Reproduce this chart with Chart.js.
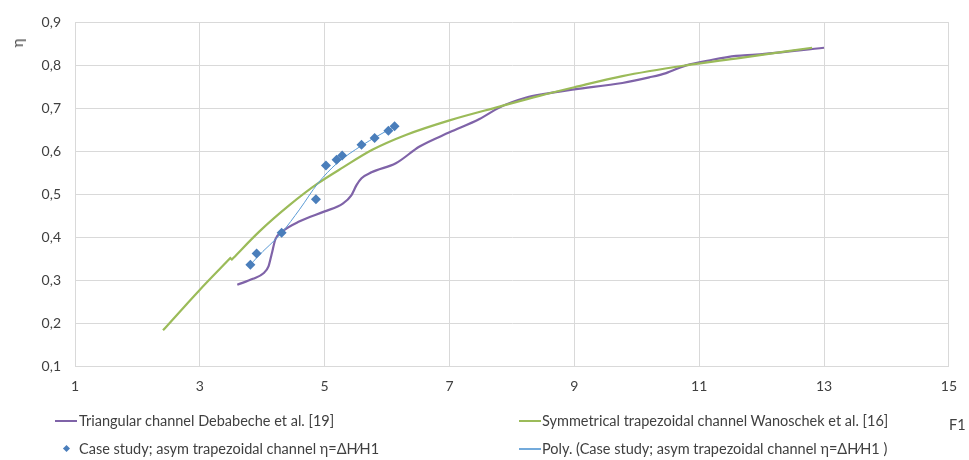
<!DOCTYPE html>
<html>
<head>
<meta charset="utf-8">
<script src="https://cdn.jsdelivr.net/npm/chart.js@4/dist/chart.umd.min.js"></script>
<style>
html,body{margin:0;padding:0;background:#ffffff;}
#wrap{position:relative;width:969px;height:460px;font-family:Lato,"Liberation Sans",sans-serif;color:#404040;overflow:hidden;}
#c{position:absolute;left:0;top:0;}
.txt{position:absolute;white-space:nowrap;font-size:14.5px;line-height:16px;transform:translateY(-50%);}
.sw{position:absolute;}
#ytitle{position:absolute;font-size:15px;line-height:16px;transform:translate(-50%,-50%) rotate(-90deg);}
#xtitle{position:absolute;font-size:14.5px;line-height:16px;transform:translateY(-50%);}
</style>
</head>
<body>
<div id="wrap">
<canvas id="c" width="969" height="460"></canvas>
<div id="ytitle" style="left:17px;top:43px;">η</div>
<div id="xtitle" style="left:949px;top:425px;">F1</div>
<div id="legend"></div>
</div>
<script>
// ---- data ----
const xTicks = [1, 3, 5, 7, 9, 11, 13, 15];
const yTicks = [0.1, 0.2, 0.3, 0.4, 0.5, 0.6, 0.7, 0.8, 0.9];
const yTickLabels = ['0,1', '0,2', '0,3', '0,4', '0,5', '0,6', '0,7', '0,8', '0,9'];

const seriesNames = [
  'Triangular channel Debabeche et al. [19]',
  'Symmetrical trapezoidal channel Wanoschek et al. [16]',
  'Case study; asym trapezoidal channel  η=ΔH⁄H1',
  'Poly. (Case study; asym trapezoidal channel  η=ΔH⁄H1 )'
];

const triX = [3.60, 3.85, 4.02, 4.10, 4.15, 4.21, 4.31, 4.60, 5.00, 5.29, 5.43, 5.51, 5.59, 5.75, 6.14, 6.52, 7.00, 7.48, 7.80, 8.23, 8.50, 9.00, 9.77, 10.20, 10.47, 10.79, 11.21, 11.59, 11.91, 13.00];
const triY = [0.289, 0.303, 0.316, 0.332, 0.360, 0.395, 0.412, 0.437, 0.460, 0.478, 0.498, 0.521, 0.537, 0.551, 0.572, 0.611, 0.644, 0.675, 0.702, 0.725, 0.733, 0.744, 0.759, 0.772, 0.782, 0.800, 0.813, 0.822, 0.825, 0.841];

// the small jog of the reference curve at F1 = 3.5 is kept as a break (null)
const symX = [2.41, 2.99, 3.50, 3.50, 3.50, 3.54, 3.96, 4.44, 4.89, 5.30, 5.77, 6.30, 7.00, 7.80, 8.44, 9.00, 9.77, 10.79, 11.64, 12.81];
const symY = [0.183, 0.276, 0.353, null, 0.346, 0.352, 0.414, 0.475, 0.525, 0.563, 0.604, 0.638, 0.672, 0.704, 0.729, 0.749, 0.775, 0.800, 0.817, 0.841];

const caseX = [3.81, 3.91, 4.31, 4.86, 5.02, 5.19, 5.28, 5.59, 5.80, 6.02, 6.12];
const caseY = [0.336, 0.362, 0.410, 0.488, 0.567, 0.580, 0.590, 0.615, 0.631, 0.648, 0.658];

const polyX = [3.81, 3.91, 4.31, 4.60, 4.89, 5.19, 5.59, 6.12];
const polyY = [0.335, 0.352, 0.410, 0.465, 0.525, 0.571, 0.613, 0.658];

// ---- colours ----
const purple = '#7f63a8';
const green = '#9bbb59';
const blueDot = '#4a7ebb';
const blueLine = '#5b9bd5';

const zip = (xs, ys) => xs.map((x, i) => ({x: x, y: ys[i]}));

const datasets = [
  {label: seriesNames[0], data: zip(triX, triY), showLine: true, borderColor: purple, backgroundColor: purple,
   borderWidth: 2.2, pointRadius: 0, cubicInterpolationMode: 'monotone', order: 4, legendKind: 'line'},
  {label: seriesNames[1], data: zip(symX, symY), showLine: true, spanGaps: false, borderColor: green, backgroundColor: green,
   borderWidth: 2.2, pointRadius: 0, cubicInterpolationMode: 'monotone', order: 3, legendKind: 'line'},
  {label: seriesNames[2], data: zip(caseX, caseY), showLine: false, borderColor: blueDot, backgroundColor: blueDot,
   pointStyle: 'rectRot', pointRadius: 5, pointBorderWidth: 0, order: 1, legendKind: 'point'},
  {label: seriesNames[3], data: zip(polyX, polyY), showLine: true, borderColor: blueLine, backgroundColor: blueLine,
   borderWidth: 1, pointRadius: 0, cubicInterpolationMode: 'monotone', order: 2, legendKind: 'line'}
];

const tickFont = {family: 'Lato, "Liberation Sans", sans-serif', size: 14};
const gridColor = '#d9d9d9';

const chart = new Chart(document.getElementById('c'), {
  type: 'scatter',
  data: {datasets: datasets},
  options: {
    responsive: false,
    animation: false,
    devicePixelRatio: 1,
    layout: {padding: {left: 0, top: 16, right: 20, bottom: 0}},
    plugins: {legend: {display: false}, tooltip: {enabled: false}, title: {display: false}},
    scales: {
      x: {
        type: 'linear', min: xTicks[0], max: xTicks[xTicks.length - 1],
        afterBuildTicks: (s) => { s.ticks = xTicks.map(v => ({value: v})); },
        afterFit: (s) => { s.height = 94; },
        ticks: {font: tickFont, color: '#404040', padding: 12, maxRotation: 0, autoSkip: false,
                callback: (v) => String(v)},
        grid: {color: gridColor, lineWidth: 1, drawTicks: false},
        border: {color: gridColor, width: 1}
      },
      y: {
        type: 'linear', min: yTicks[0], max: yTicks[yTicks.length - 1],
        afterBuildTicks: (s) => { s.ticks = yTicks.map(v => ({value: v})); },
        afterFit: (s) => { s.width = 75; },
        ticks: {font: tickFont, color: '#404040', padding: 14, autoSkip: false,
                callback: (v) => { const i = yTicks.findIndex(t => Math.abs(t - v) < 1e-6); return i >= 0 ? yTickLabels[i] : ''; }},
        grid: {color: gridColor, lineWidth: 1, drawTicks: false},
        border: {color: gridColor, width: 1}
      }
    }
  }
});

// ---- legend (2 columns x 2 rows, like the reference) ----
const legendSlots = [
  {sx: 55, tx: 79, y: 421},
  {sx: 519, tx: 542, y: 421},
  {sx: 55, tx: 79, y: 449},
  {sx: 519, tx: 542, y: 449}
];
const lg = document.getElementById('legend');
chart.data.datasets.forEach((ds, i) => {
  const slot = legendSlots[i];
  const sw = document.createElement('div');
  sw.className = 'sw';
  if (ds.legendKind === 'point') {
    sw.style.left = (slot.sx + 9) + 'px';
    sw.style.top = (slot.y - 3) + 'px';
    sw.style.width = '5px';
    sw.style.height = '5px';
    sw.style.background = ds.backgroundColor;
    sw.style.transform = 'rotate(45deg)';
  } else {
    sw.style.left = slot.sx + 'px';
    sw.style.top = (slot.y - 1) + 'px';
    sw.style.width = '22px';
    sw.style.height = '2px';
    sw.style.background = ds.borderColor;
    if (ds.borderWidth < 2) sw.style.opacity = '0.85';
  }
  lg.appendChild(sw);
  const t = document.createElement('div');
  t.className = 'txt';
  t.style.left = slot.tx + 'px';
  t.style.top = slot.y + 'px';
  t.textContent = ds.label;
  lg.appendChild(t);
});
</script>
</body>
</html>
